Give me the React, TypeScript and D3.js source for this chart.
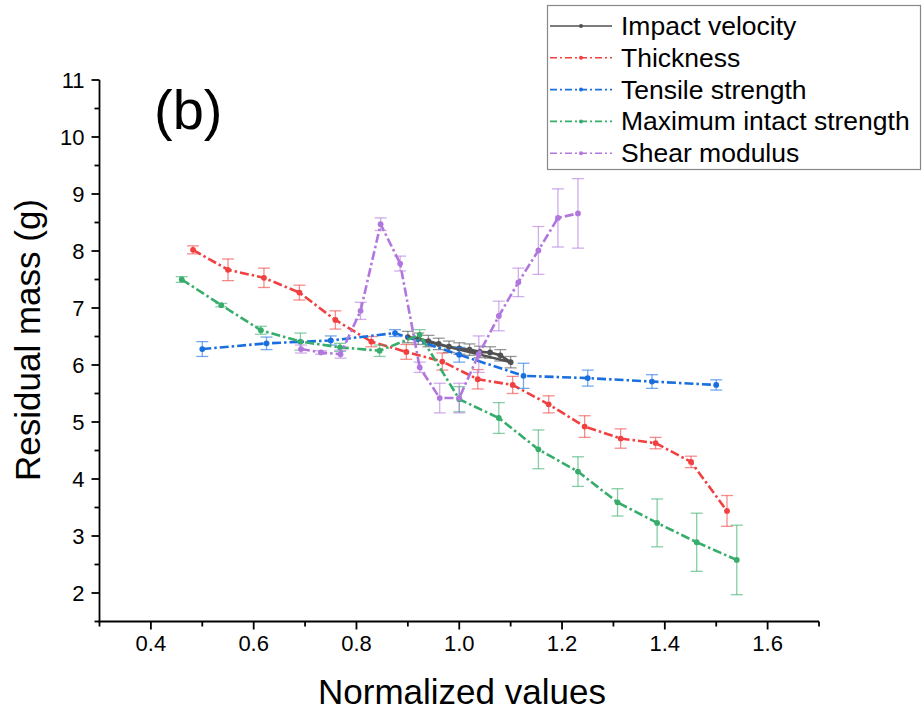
import React from "react";
import * as d3 from "d3";

const seriesNames = ["Impact velocity", "Thickness", "Tensile strength", "Maximum intact strength", "Shear modulus"];
const seriesColors = ["#515151", "#F14040", "#1A6FDF", "#37AD6B", "#B177DE"];

const impactX = [0.9, 0.92, 0.94, 0.96, 0.98, 1.0, 1.02, 1.04, 1.06, 1.08, 1.1];
const impactY = [6.49, 6.46, 6.42, 6.37, 6.32, 6.29, 6.27, 6.23, 6.22, 6.17, 6.05];
const impactE = [0.1, 0.1, 0.1, 0.1, 0.1, 0.1, 0.1, 0.1, 0.1, 0.1, 0.1];

const thickX = [0.482, 0.55, 0.62, 0.689, 0.759, 0.829, 0.897, 0.967, 1.036, 1.104, 1.174, 1.244, 1.314, 1.382, 1.451, 1.521];
const thickY = [8.02, 7.67, 7.53, 7.27, 6.79, 6.41, 6.23, 6.06, 5.75, 5.65, 5.31, 4.92, 4.71, 4.63, 4.3, 3.44];
const thickE = [0.07, 0.19, 0.17, 0.13, 0.16, 0.09, 0.13, 0.15, 0.17, 0.15, 0.15, 0.19, 0.17, 0.1, 0.1, 0.27];

const tensX = [0.5, 0.625, 0.75, 0.875, 1.0, 1.125, 1.25, 1.375, 1.5];
const tensY = [6.28, 6.38, 6.43, 6.56, 6.18, 5.81, 5.77, 5.71, 5.65];
const tensE = [0.13, 0.11, 0.08, 0.06, 0.13, 0.22, 0.14, 0.12, 0.09];

const maxX = [0.46, 0.537, 0.614, 0.691, 0.768, 0.845, 0.923, 1.0, 1.077, 1.154, 1.231, 1.308, 1.385, 1.462, 1.54];
const maxY = [7.5, 7.05, 6.61, 6.41, 6.31, 6.25, 6.53, 5.4, 5.07, 4.52, 4.13, 3.59, 3.23, 2.89, 2.58];
const maxE = [0.05, 0.03, 0.07, 0.15, 0.07, 0.1, 0.09, 0.22, 0.27, 0.34, 0.26, 0.24, 0.42, 0.51, 0.61];

const shearX = [0.692, 0.731, 0.769, 0.808, 0.847, 0.885, 0.923, 0.962, 1.0, 1.038, 1.077, 1.115, 1.154, 1.192, 1.231];
const shearY = [6.28, 6.22, 6.19, 6.95, 8.47, 7.78, 5.96, 5.42, 5.42, 6.19, 6.86, 7.45, 8.01, 8.58, 8.66];
const shearE = [0.07, 0.03, 0.07, 0.15, 0.11, 0.13, 0.09, 0.26, 0.26, 0.32, 0.26, 0.25, 0.42, 0.51, 0.61];

const xMajor = [0.4, 0.6, 0.8, 1.0, 1.2, 1.4, 1.6];
const xMinor = [0.3, 0.5, 0.7, 0.9, 1.1, 1.3, 1.5, 1.7];
const yMajor = [2, 3, 4, 5, 6, 7, 8, 9, 10, 11];
const yMinor = [1.5, 2.5, 3.5, 4.5, 5.5, 6.5, 7.5, 8.5, 9.5, 10.5];

const allSeries = [
  { xs: impactX, ys: impactY, es: impactE, closed: true },
  { xs: thickX, ys: thickY, es: thickE, closed: false },
  { xs: tensX, ys: tensY, es: tensE, closed: false },
  { xs: maxX, ys: maxY, es: maxE, closed: false },
  { xs: shearX, ys: shearY, es: shearE, closed: false },
];

const FONT = "'Liberation Sans', Arial, sans-serif";

export default function App() {
  const x = d3.scaleLinear().domain([0.3, 1.7]).range([99.5, 819]);
  const y = d3.scaleLinear().domain([1.5, 11]).range([621.5, 80]);
  const dash = "9,3,2.5,3";

  return (
    <svg width={924} height={713} style={{ position: "absolute", left: 0, top: 0, background: "#fff" }}>
      {/* series */}
      {allSeries.map((s, i) => {
        const pts = s.xs.map((v, k) => [v, s.ys[k]] as [number, number]);
        const line = d3
          .line<[number, number]>()
          .x((d) => x(d[0]))
          .y((d) => y(d[1]))
          .curve(s.closed ? d3.curveLinearClosed : d3.curveLinear);
        const col = seriesColors[i];
        return (
          <g key={i}>
            {pts.map((p, k) => {
              const cx = x(p[0]);
              const y1 = y(p[1] + s.es[k]);
              const y2 = y(p[1] - s.es[k]);
              return (
                <g key={k} stroke={col} strokeOpacity={0.6} strokeWidth={1.3}>
                  <line x1={cx} x2={cx} y1={y1} y2={y2} />
                  <line x1={cx - 6} x2={cx + 6} y1={y1} y2={y1} />
                  <line x1={cx - 6} x2={cx + 6} y1={y2} y2={y2} />
                </g>
              );
            })}
            <path
              d={line(pts) || ""}
              fill="none"
              stroke={col}
              strokeWidth={2.6}
              strokeDasharray={s.closed ? undefined : dash}
            />
            {pts.map((p, k) => (
              <circle key={k} cx={x(p[0])} cy={y(p[1])} r={2.9} fill={col} />
            ))}
          </g>
        );
      })}

      {/* axes */}
      <g stroke="#000" strokeWidth={1.8}>
        <line x1={x(0.3) - 1} x2={x(1.7)} y1={y(1.5)} y2={y(1.5)} />
        <line x1={x(0.3)} x2={x(0.3)} y1={y(11)} y2={y(1.5)} />
        {xMajor.map((t) => (
          <line key={"xM" + t} x1={x(t)} x2={x(t)} y1={y(1.5)} y2={y(1.5) + 8} />
        ))}
        {xMinor.map((t) => (
          <line key={"xm" + t} x1={x(t)} x2={x(t)} y1={y(1.5)} y2={y(1.5) + 5} />
        ))}
        {yMajor.map((t) => (
          <line key={"yM" + t} x1={x(0.3) - 8} x2={x(0.3)} y1={y(t)} y2={y(t)} />
        ))}
        {yMinor.map((t) => (
          <line key={"ym" + t} x1={x(0.3) - 5} x2={x(0.3)} y1={y(t)} y2={y(t)} />
        ))}
      </g>
      <g fontFamily={FONT} fontSize={22} fill="#000">
        {xMajor.map((t) => (
          <text key={"xl" + t} x={x(t)} y={y(1.5) + 29} textAnchor="middle">
            {t.toFixed(1)}
          </text>
        ))}
        {yMajor.map((t) => (
          <text key={"yl" + t} x={x(0.3) - 15} y={y(t) + 8} textAnchor="end">
            {t}
          </text>
        ))}
      </g>
      <text x={462} y={704} textAnchor="middle" fontFamily={FONT} fontSize={35}>
        Normalized values
      </text>
      <text
        transform="translate(40,340) rotate(-90)"
        textAnchor="middle"
        fontFamily={FONT}
        fontSize={35}
      >
        Residual mass (g)
      </text>
      <text x={154} y={129} fontFamily={FONT} fontSize={56}>
        (b)
      </text>

      {/* legend */}
      <rect x={547.5} y={5.5} width={373} height={164} fill="#fff" stroke="#888" strokeWidth={1.2} />
      {seriesNames.map((n, i) => {
        const cy = 26 + i * 31.8;
        const col = seriesColors[i];
        return (
          <g key={n}>
            <line
              x1={550}
              x2={612}
              y1={cy}
              y2={cy}
              stroke={col}
              strokeWidth={1.6}
              strokeDasharray={i === 0 ? undefined : "7,3,2,3"}
            />
            <circle cx={581} cy={cy} r={2} fill={col} />
            <text x={621} y={cy + 9} fontFamily={FONT} fontSize={26.5} fill="#000">
              {n}
            </text>
          </g>
        );
      })}
    </svg>
  );
}
